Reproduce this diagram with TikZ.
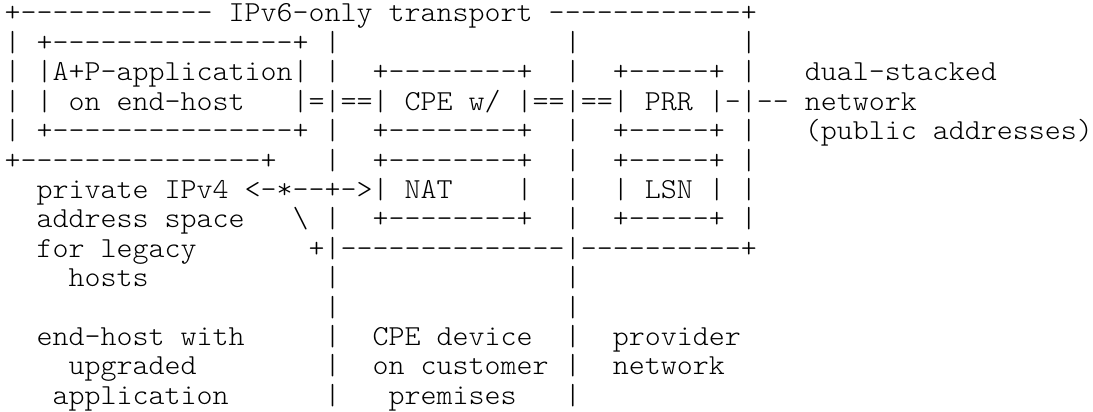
\documentclass[tikz,border=0pt]{standalone}
\usepackage{tikz}
\tikzset{
    asciirow/.style={anchor=base west, inner sep=0pt, outer sep=0pt, xscale=1.051, transform shape, font=\fontsize{29}{29}\fontseries{l}\ttfamily},
    nextrow/.style={asciirow, yshift=-29.4pt}
}
\begin{document}
\begin{tikzpicture}
    \useasboundingbox (0,0) rectangle (1093pt,-412pt);

    % Top box and first column
    \node[asciirow] (row1) at (4.7pt,-22pt) {+------------~IPv6-only~transport~------------+};
    \node[nextrow] (row2) at (row1.base west) {|~+---------------+~|~~~~~~~~~~~~~~|~~~~~~~~~~|};
    \node[nextrow] (row3) at (row2.base west) {|~|A+P-application|~|~~+--------+~~|~~+-----+~|~~~dual-stacked};
    \node[nextrow] (row4) at (row3.base west) {|~|~on~end-host~~~|=|==|~CPE~w/~|==|==|~PRR~|-|--~network};
    \node[nextrow] (row5) at (row4.base west) {|~+---------------+~|~~+--------+~~|~~+-----+~|~~~(public~addresses)};
    \node[nextrow] (row6) at (row5.base west) {+---------------+~~~|~~+--------+~~|~~+-----+~|};

    % Legacy hosts
    \node[nextrow] (row7) at (row6.base west) {~~private~IPv4~<-*--+->|~NAT~~~~|~~|~~|~LSN~|~|};
    \node[nextrow] (row8) at (row7.base west) {~~address~space~~~\textbackslash~|~~+--------+~~|~~+-----+~|};
    \node[nextrow] (row9) at (row8.base west) {~~for~legacy~~~~~~~+|--------------|----------+};
    \node[nextrow] (row10) at (row9.base west) {~~~~hosts~~~~~~~~~~~|~~~~~~~~~~~~~~|};
    \node[nextrow] (row11) at (row10.base west) {~~~~~~~~~~~~~~~~~~~~|~~~~~~~~~~~~~~|};

    % Column captions
    \node[nextrow] (row12) at (row11.base west) {~~end-host~with~~~~~|~~CPE~device~~|~~provider};
    \node[nextrow] (row13) at (row12.base west) {~~~~upgraded~~~~~~~~|~~on~customer~|~~network};
    \node[nextrow] (row14) at (row13.base west) {~~~application~~~~~~|~~~premises~~~|};
\end{tikzpicture}
\end{document}
